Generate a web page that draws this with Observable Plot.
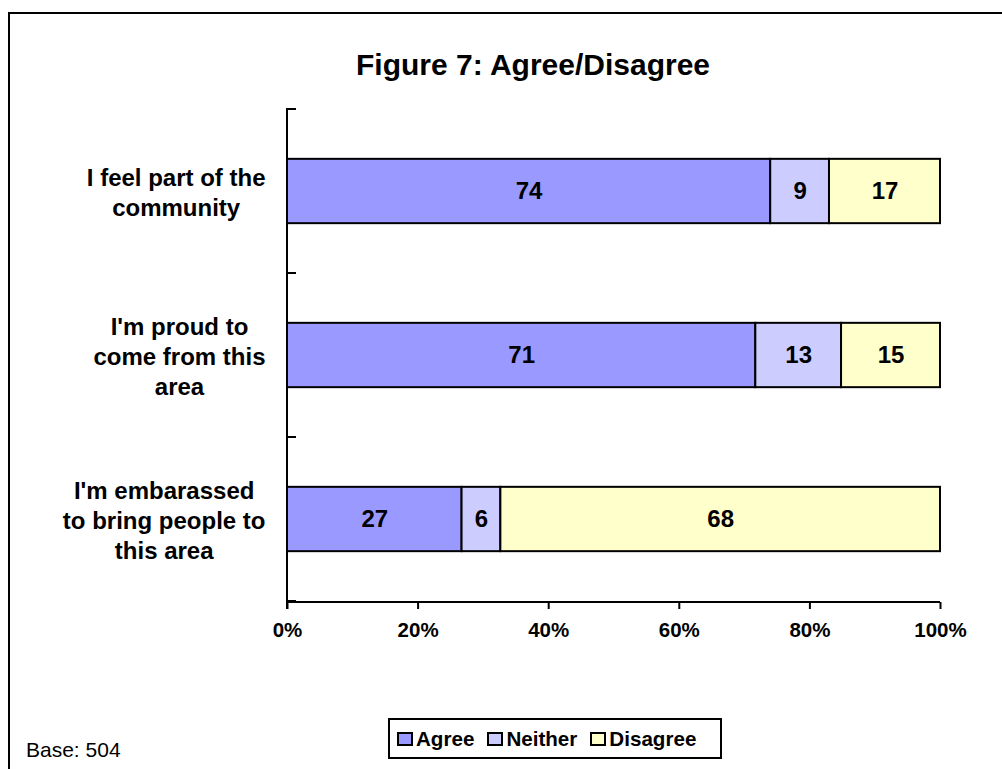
<!DOCTYPE html>
<html>
<head>
<meta charset="utf-8">
<script src="https://cdn.jsdelivr.net/npm/d3@7"></script>
<script src="https://cdn.jsdelivr.net/npm/@observablehq/plot@0.6"></script>
<style>
  html, body { margin: 0; padding: 0; background: #fff; }
  #wrap { position: relative; width: 1002px; height: 769px; overflow: hidden; font-family: "Liberation Sans", Arial, sans-serif; }
  #border { position: absolute; left: 8px; top: 12px; right: -10px; bottom: -10px; border-top: 2px solid #000; border-left: 2px solid #000; pointer-events: none; }
  #title { position: absolute; top: 48px; left: 533px; transform: translateX(-50%); font-weight: bold; font-size: 30px; white-space: nowrap; color: #000; }
  #base { position: absolute; left: 26px; top: 738px; font-size: 21px; color: #000; white-space: nowrap; }
  #legend { position: absolute; left: 388px; top: 718px; width: 323px; height: 37px; border: 2px solid #000; display: flex; align-items: center; padding-left: 7px; box-sizing: content-box; }
  #legend .item { display: flex; align-items: center; margin-right: 13px; font-weight: bold; font-size: 20.6px; }
  #legend .sw { width: 16px; height: 14px; border: 2px solid #000; margin-right: 3px; box-sizing: border-box; }
  #chart { position: absolute; left: 0; top: 0; }
</style>
</head>
<body>
<div id="wrap">
  <div id="chart"></div>
  <div id="border"></div>
  <div id="title"></div>
  <div id="legend"></div>
  <div id="base"></div>
</div>
<script>
// ---- Data ----
const titleText = "Figure 7: Agree/Disagree";
const baseText = "Base: 504";
const statements = [
  "I feel part of the\ncommunity",
  "I'm proud to\ncome from this\narea",
  "I'm embarassed\nto bring people to\nthis area"
];
const responses = ["Agree", "Neither", "Disagree"];
const agreeValues = [74, 71, 27];
const neitherValues = [9, 13, 6];
const disagreeValues = [17, 15, 68];
const responseColors = ["#9999FF", "#CCCCFF", "#FFFFCC"];
const xTicks = [0, 0.2, 0.4, 0.6, 0.8, 1];

// ---- Build table ----
const seriesValues = [agreeValues, neitherValues, disagreeValues];
const rows = [];
statements.forEach((s, i) => {
  responses.forEach((r, j) => rows.push({statement: s, response: r, value: seriesValues[j][i]}));
});

// ---- Layout ----
const W = 1002, H = 769;
const mL = 287, mR = 62, mT = 108, mB = 167;
const bandStep = (H - mT - mB) / statements.length;
const barH = 65;
const inset = (bandStep - barH) / 2;
const labelFont = "bold 24px 'Liberation Sans', Arial, sans-serif";

const canvas = document.createElement("canvas");
const ctx = canvas.getContext("2d");
ctx.font = labelFont;
function blockWidth(s) {
  return Math.max(...s.split("\n").map(l => ctx.measureText(l).width));
}

const axisLines = (index, scales, values, dims) => {
  const g = d3.create("svg:g").attr("stroke", "#000").attr("stroke-width", 2).attr("fill", "none");
  const x0 = scales.x(0), x1 = scales.x(1);
  const top = dims.marginTop, bottom = dims.height - dims.marginBottom;
  g.append("line").attr("x1", x0).attr("x2", x0).attr("y1", top).attr("y2", bottom + 7);
  g.append("line").attr("x1", x0).attr("x2", x1).attr("y1", bottom).attr("y2", bottom);
  const bw = scales.y.bandwidth ? scales.y.bandwidth() : bandStep;
  const bounds = statements.map(s => scales.y(s)).concat([scales.y(statements[statements.length - 1]) + bw]);
  bounds.forEach(b => g.append("line").attr("x1", x0).attr("x2", x0 + 9).attr("y1", b).attr("y2", b));
  return g.node();
};

const labelMarks = statements.map(s => Plot.text([s], {
  y: d => d, text: d => d, frameAnchor: "left", textAnchor: "middle",
  dx: -22 - blockWidth(s) / 2, fontSize: 24, fontWeight: "bold", lineHeight: 1.26, fill: "#000"
}));

const chart = Plot.plot({
  width: W, height: H,
  marginLeft: mL, marginRight: mR, marginTop: mT, marginBottom: mB,
  style: {fontFamily: "'Liberation Sans', Arial, sans-serif", background: "transparent", color: "#000"},
  x: {domain: [0, 1], axis: null},
  y: {domain: statements, padding: 0, axis: null},
  color: {domain: responses, range: responseColors},
  marks: [
    Plot.barX(rows, Plot.stackX({
      x: "value", y: "statement", fill: "response", offset: "normalize",
      insetTop: inset, insetBottom: inset, stroke: "#000", strokeWidth: 2
    })),
    Plot.text(rows, Plot.stackX({
      x: "value", y: "statement", text: d => String(d.value), offset: "normalize",
      fontSize: 24, fontWeight: "bold", fill: "#000"
    })),
    Plot.axisX({ticks: xTicks, tickFormat: d3.format(".0%"), tickSize: 7, tickPadding: 13, label: null,
      fontSize: 20.5, fontWeight: "bold", stroke: "#000", strokeWidth: 2, fill: "#000"}),
    ...labelMarks,
    axisLines
  ]
});
document.getElementById("chart").appendChild(chart);

document.getElementById("title").textContent = titleText;
document.getElementById("base").textContent = baseText;
const legend = document.getElementById("legend");
responses.forEach((r, i) => {
  const item = document.createElement("div");
  item.className = "item";
  const sw = document.createElement("div");
  sw.className = "sw";
  sw.style.background = responseColors[i];
  const t = document.createElement("span");
  t.textContent = r;
  item.appendChild(sw); item.appendChild(t);
  legend.appendChild(item);
});
</script>
</body>
</html>
